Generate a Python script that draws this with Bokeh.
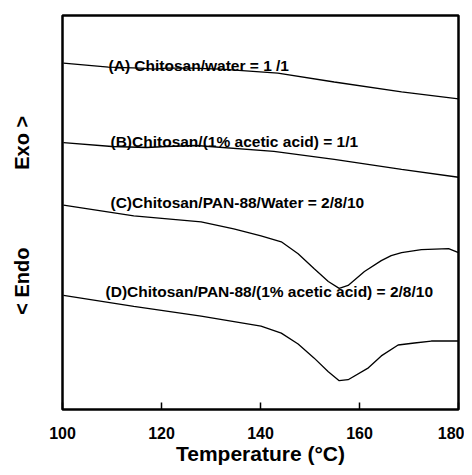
from bokeh.plotting import figure
from bokeh.models import Range1d, FixedTicker
from bokeh.core.properties import value
from bokeh.embed import file_html
from bokeh.resources import INLINE

# Temperature (deg C) and heat-flow signal (arbitrary units, offset per curve)
temp_a = [100.2, 109.3, 115.8, 118.5, 121.0, 126.0, 132.0, 143.5, 154.9, 168.5, 180.0]
flow_a = [349, 345, 344, 343, 344, 344, 343, 339, 330, 320, 313]

temp_b = [100.2, 110.0, 117.0, 121.0, 127.0, 142.7, 154.9, 168.5, 180.0]
flow_b = [269, 265, 264, 265, 266, 260, 252, 242, 234]

temp_c = [100.2, 114.4, 128.0, 134.6, 140.1, 144.2, 147.6, 150.8, 153.7, 155.9,
          157.7, 161.0, 164.4, 166.4, 168.5, 172.5, 178.0, 180.0]
flow_c = [206, 195, 189, 182, 175, 169, 157, 142, 129, 122,
          125, 139, 150, 155, 158, 161, 162, 158]

temp_d = [100.2, 114.4, 128.0, 140.1, 144.2, 147.6, 150.8, 153.7, 155.9, 157.7,
          161.8, 164.4, 167.8, 171.1, 174.5, 180.0]
flow_d = [115, 104, 94, 84, 77, 66, 52, 38, 29, 30,
          42, 54, 65, 67, 69, 69]

labels = ["(A) Chitosan/water = 1 /1",
          "(B)Chitosan/(1% acetic acid) = 1/1",
          "(C)Chitosan/PAN-88/Water = 2/8/10",
          "(D)Chitosan/PAN-88/(1% acetic acid) = 2/8/10"]
label_x = [109.3, 109.7, 109.7, 108.7]
label_y = [347, 270, 209, 119]

x_ticks = [100, 120, 140, 160, 180]

FONT = "Liberation Sans"
NB = "\u00a0"

p = figure(width=464, height=467, output_backend="svg", toolbar_location=None,
           x_range=Range1d(100, 180), y_range=Range1d(0, 397),
           min_border_left=62, min_border_right=6, min_border_top=15, min_border_bottom=55)

p.grid.visible = False
p.outline_line_color = "black"
p.outline_line_width = 2.5

for xs, ys in [(temp_a, flow_a), (temp_b, flow_b), (temp_c, flow_c), (temp_d, flow_d)]:
    p.line(xs, ys, line_color="black", line_width=1.3)

p.text(x=label_x, y=label_y, text=labels, text_font=value(FONT), text_font_style="bold",
       text_font_size="15.5px", text_baseline="alphabetic", text_align="left",
       text_color="black")

xa = p.xaxis[0]
xa.ticker = FixedTicker(ticks=x_ticks)
xa.axis_line_color = None
xa.major_tick_in = 7
xa.major_tick_out = 0
xa.major_tick_line_width = 1.5
xa.major_tick_line_color = "black"
xa.minor_tick_line_color = None
xa.major_label_text_font = FONT
xa.major_label_text_font_style = "bold"
xa.major_label_text_font_size = "16px"
xa.major_label_text_color = "black"
xa.major_label_standoff = 17
xa.axis_label = "Temperature (°C)"
xa.axis_label_text_font = FONT
xa.axis_label_text_font_style = "bold"
xa.axis_label_text_font_size = "21px"
xa.axis_label_text_color = "black"
xa.axis_label_standoff = 0

ya = p.yaxis[0]
ya.axis_line_color = None
ya.major_tick_line_color = None
ya.minor_tick_line_color = None
ya.major_label_text_font_size = "0px"
ya.major_label_text_color = None
ya.major_tick_in = 0
ya.major_tick_out = 0
ya.major_label_standoff = 0
ya.axis_label = "<" + NB + "Endo" + NB * 14 + "Exo" + NB + ">" + NB
ya.axis_label_text_font = FONT
ya.axis_label_text_font_style = "bold"
ya.axis_label_text_font_size = "20px"
ya.axis_label_text_color = "black"
ya.axis_label_standoff = 26

open("out.html", "w").write(file_html(p, INLINE))
